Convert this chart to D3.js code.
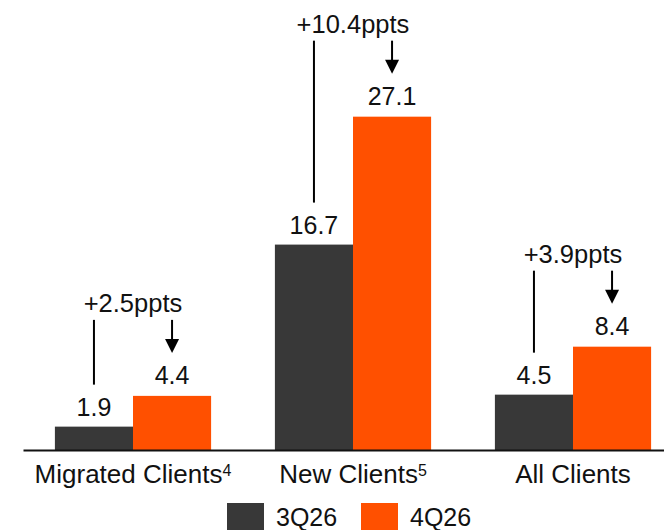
<!DOCTYPE html>
<html>
<head>
<meta charset="utf-8">
<script src="https://cdn.jsdelivr.net/npm/d3@7"></script>
<style>
  body { margin: 0; background: #fff; }
  svg { display: block; font-family: "Liberation Sans", Arial, sans-serif; }
</style>
</head>
<body>
<div id="chart"></div>
<script>
const categories = ["Migrated Clients", "New Clients", "All Clients"];
const footnotes = ["4", "5", ""];
const series = ["3Q26", "4Q26"];
const q3Values = [1.9, 16.7, 4.5];
const q4Values = [4.4, 27.1, 8.4];
const deltaLabels = ["+2.5ppts", "+10.4ppts", "+3.9ppts"];
const colors = ["#383838", "#ff5000"];

const width = 664, height = 530;
const baseY = 450;

const svg = d3.select("#chart").append("svg")
    .attr("width", width)
    .attr("height", height);

const x = d3.scaleBand()
    .domain(categories)
    .range([23, 683])
    .paddingInner(0.29)
    .paddingOuter(0.145);

const xSub = d3.scaleBand()
    .domain(series)
    .range([0, x.bandwidth()]);

const y = d3.scaleLinear()
    .domain([0, 30])
    .range([baseY, baseY - 369]);

const rows = categories.map((c, i) => ({
    cat: c, note: footnotes[i], delta: deltaLabels[i],
    vals: [q3Values[i], q4Values[i]]
}));

// bars
const groups = svg.selectAll("g.grp")
    .data(rows)
    .join("g")
    .attr("class", "grp")
    .attr("transform", d => `translate(${x(d.cat)},0)`);

groups.selectAll("rect")
    .data(d => d.vals.map((v, j) => ({ key: series[j], v, j })))
    .join("rect")
    .attr("x", d => xSub(d.key))
    .attr("y", d => y(d.v))
    .attr("width", xSub.bandwidth())
    .attr("height", d => baseY - y(d.v))
    .attr("fill", d => colors[d.j]);

groups.selectAll("text.val")
    .data(d => d.vals.map((v, j) => ({ key: series[j], v, j })))
    .join("text")
    .attr("class", "val")
    .attr("x", d => xSub(d.key) + xSub.bandwidth() / 2)
    .attr("y", d => y(d.v) - (d.j ? 12 : 11))
    .attr("text-anchor", "middle")
    .attr("font-size", 25)
    .attr("fill", "#111")
    .text(d => d.v.toFixed(1));

// delta annotations
groups.append("text")
    .attr("x", x.bandwidth() / 2)
    .attr("y", d => y(d.vals[1]) - 84)
    .attr("text-anchor", "middle")
    .attr("font-size", 25.5)
    .attr("fill", "#111")
    .text(d => d.delta);

const darkX = xSub(series[0]) + xSub.bandwidth() / 2;
const orangeX = xSub(series[1]) + xSub.bandwidth() / 2;

groups.append("line")
    .attr("x1", darkX).attr("x2", darkX)
    .attr("y1", d => y(d.vals[1]) - 76)
    .attr("y2", d => y(d.vals[0]) - 42)
    .attr("stroke", "#000")
    .attr("stroke-width", 2);

groups.append("line")
    .attr("x1", orangeX).attr("x2", orangeX)
    .attr("y1", d => y(d.vals[1]) - 76)
    .attr("y2", d => y(d.vals[1]) - 55)
    .attr("stroke", "#000")
    .attr("stroke-width", 2);

groups.append("path")
    .attr("d", d => {
        const tip = y(d.vals[1]) - 43;
        return `M${orangeX - 7},${tip - 14}L${orangeX + 7},${tip - 14}L${orangeX},${tip}Z`;
    })
    .attr("fill", "#000");

// axis line
svg.append("g")
    .attr("transform", `translate(0,${baseY})`)
    .call(d3.axisBottom(x).tickSize(0).tickFormat(""))
    .call(g => g.select(".domain").attr("stroke", "#111").attr("stroke-width", 2));

// category labels
const labels = svg.selectAll("text.cat")
    .data(rows)
    .join("text")
    .attr("class", "cat")
    .attr("x", d => x(d.cat) + x.bandwidth() / 2)
    .attr("y", 483)
    .attr("text-anchor", "middle")
    .attr("font-size", 26)
    .attr("fill", "#111");

labels.append("tspan").text(d => d.cat);
labels.filter(d => d.note)
    .append("tspan")
    .attr("font-size", 16)
    .attr("dy", -7)
    .text(d => d.note);

// legend
const legendX = [227, 361];
const legend = svg.selectAll("g.leg")
    .data(series)
    .join("g")
    .attr("class", "leg")
    .attr("transform", (d, i) => `translate(${legendX[i]},503)`);

legend.append("rect")
    .attr("width", 37)
    .attr("height", 37)
    .attr("fill", (d, i) => colors[i]);

legend.append("text")
    .attr("x", 49)
    .attr("y", 23)
    .attr("font-size", 25)
    .attr("fill", "#111")
    .text(d => d);
</script>
</body>
</html>
